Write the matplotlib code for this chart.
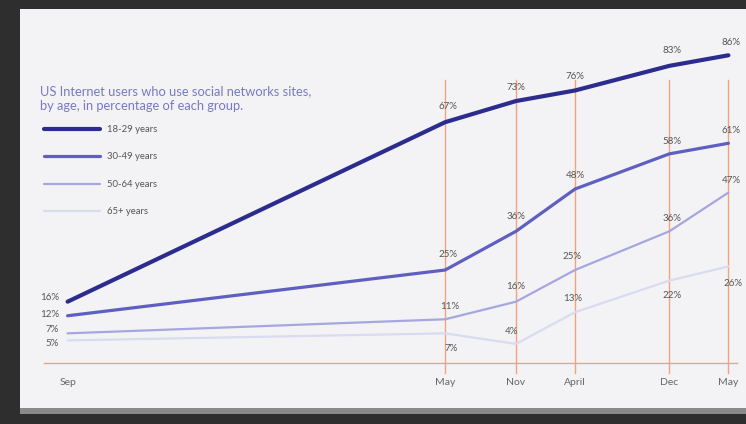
import matplotlib
matplotlib.use("Agg")
import matplotlib.pyplot as plt
from matplotlib.patches import Rectangle

plt.rcParams['font.family'] = ['Lato', 'DejaVu Sans']

# Survey dates as months since Sep 2005
months = [0, 32, 38, 43, 51, 56]
tick_labels = ["Sep", "May", "Nov", "April", "Dec", "May"]

series_names = ["18-29 years", "30-49 years", "50-64 years", "65+ years"]
age_18_29 = [16, 67, 73, 76, 83, 86]
age_30_49 = [12, 25, 36, 48, 58, 61]
age_50_64 = [7, 11, 16, 25, 36, 47]
age_65_plus = [5, 7, 4, 13, 22, 26]

colors = ["#2c2c8e", "#5f5fc2", "#a6a6e0", "#dadaf0"]
widths = [3.0, 2.3, 1.6, 1.6]

# label offsets (points) for each series' value labels
offsets = [
    [(-13, 3), (2, 11), (0, 10), (0, 10), (2, 11), (2, 9)],
    [(-13, 1), (2, 11), (0, 11), (0, 10), (2, 9), (2, 9)],
    [(-11, 3), (3, 9), (0, 11), (-2, 10), (2, 9), (2, 9)],
    [(-11, -2), (4, -11), (-3, 9), (-2, 10), (2, -11), (3, -12)],
]

fig = plt.figure(figsize=(7.46, 4.24), dpi=100)
fig.patch.set_facecolor("#2e2e2e")
W, H = 746, 424
fig.patches.append(Rectangle((20 / W, (H - 408) / H), (W - 20) / W, (408 - 9) / H,
                             transform=fig.transFigure, facecolor="#f3f3f5",
                             edgecolor="none", zorder=-2))
fig.patches.append(Rectangle((20 / W, (H - 414) / H), (W - 20) / W, 6 / H,
                             transform=fig.transFigure, facecolor="#8a8a8a",
                             edgecolor="none", zorder=-2))

ax = fig.add_axes([18 / W, (H - 363) / H, (W - 18) / W, (363 - 9) / H])
ax.set_zorder(1)
ax.set_facecolor("none")
for s in ax.spines.values():
    s.set_visible(False)

# x: pixel = 67.6 + 11.8*m ; y: pixel = 358 - 3.52*v
ax.set_xlim((18 - 67.6) / 11.8, (746 - 67.6) / 11.8)
ax.set_ylim((358 - 363) / 3.52, (358 - 9) / 3.52)

orange = "#f2a27c"
base = (358 - 363) / 3.52
ax.plot([months[0] - 2, months[-1] + 0.7], [base, base],
        color=orange, lw=1.0, clip_on=False, zorder=1)
for m in months[1:]:
    ax.plot([m, m], [(358 - 373) / 3.52, 79], color=orange, lw=1.0,
            clip_on=False, zorder=1)

all_series = [age_18_29, age_30_49, age_50_64, age_65_plus]
for vals, name, c, w in reversed(list(zip(all_series, series_names, colors, widths))):
    ax.plot(months, vals, color=c, lw=w, label=name, solid_capstyle="round",
            solid_joinstyle="round", zorder=3)

for vals, offs in zip(all_series, offsets):
    for m, v, (dx, dy) in zip(months, vals, offs):
        ax.annotate(f"{v}%", (m, v), xytext=(dx, dy), textcoords="offset points",
                    ha="center", va="center", fontsize=7.0, color="#555555", zorder=4)

ax.set_xticks(months)
ax.set_xticklabels(tick_labels, fontsize=7.5, color="#666666")
ax.tick_params(axis="x", length=0, pad=11)
ax.set_yticks([])

handles, labels = ax.get_legend_handles_labels()
handles, labels = handles[::-1], labels[::-1]
leg = ax.legend(handles, labels, loc="upper left",
                bbox_to_anchor=(44 / W, 1 - 125 / H), bbox_transform=fig.transFigure,
                frameon=False, fontsize=6.8, handlelength=5.9, labelspacing=1.95,
                handletextpad=0.8, borderaxespad=0, borderpad=0)
for t in leg.get_texts():
    t.set_color("#555555")

fig.text(40 / W, 1 - 85 / H, "US Internet users who use social networks sites,\nby age, in percentage of each group.",
         fontsize=9.3, color="#7878c6", va="top", ha="left", linespacing=1.25)

fig.savefig("out.png", dpi=100, facecolor=fig.get_facecolor())
